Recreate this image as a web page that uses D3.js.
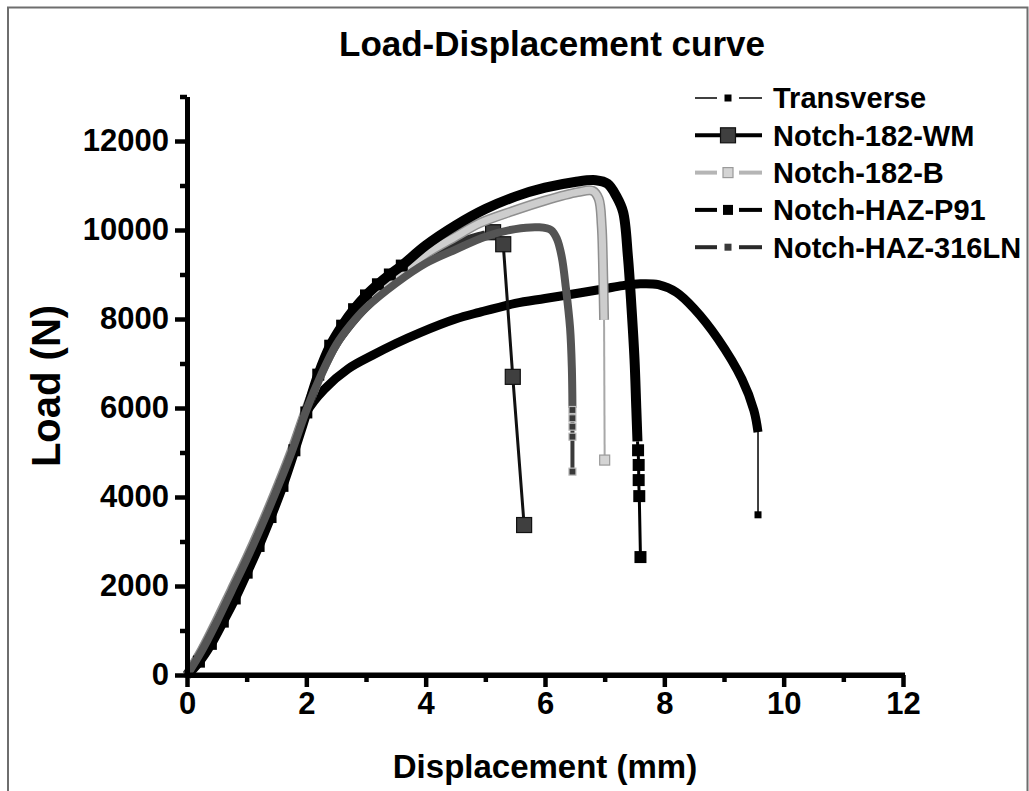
<!DOCTYPE html>
<html>
<head>
<meta charset="utf-8">
<script src="https://cdn.jsdelivr.net/npm/d3@7"></script>
<style>
  body { margin: 0; background: #fff; }
  svg text { font-family: "Liberation Sans", Arial, sans-serif; font-weight: bold; fill: #000; }
</style>
</head>
<body>
<svg id="chart" width="1029" height="791"></svg>
<script>
// ---- Axis ticks ----
const xTickValues = [0, 2, 4, 6, 8, 10, 12];
const xMinorTicks = [1, 3, 5, 7, 9, 11];
const yTickValues = [0, 2000, 4000, 6000, 8000, 10000, 12000];
const yMinorTicks = [1000, 3000, 5000, 7000, 9000, 11000, 13000];

// ---- Series names (legend order = drawing order) ----
const seriesNames = ["Transverse", "Notch-182-WM", "Notch-182-B", "Notch-HAZ-P91", "Notch-HAZ-316LN"];

// ---- Transverse: displacement (mm) / load (N) ----
const transverseDisp = [0, 0.25, 0.5, 0.75, 1.0, 1.25, 1.5, 1.75, 2.0, 2.3, 2.7, 3.1, 3.5, 3.9, 4.5, 4.9, 5.5, 6.0, 6.6, 7.0, 7.3, 7.6, 7.9, 8.2, 8.5, 8.9, 9.3, 9.5, 9.57];
const transverseLoad = [0, 550, 1200, 1900, 2600, 3350, 4150, 5000, 5900, 6420, 6880, 7180, 7450, 7690, 8000, 8150, 8350, 8460, 8590, 8680, 8750, 8790, 8770, 8600, 8230, 7550, 6650, 5950, 5460];
const transverseTailDisp = [9.57];
const transverseTailLoad = [3600];

// ---- Notch-182-WM ----
const wmDisp = [0, 0.25, 0.5, 0.75, 1.0, 1.25, 1.5, 1.75, 2.0, 2.25, 2.5, 2.75, 3.0, 3.5, 4.0, 4.5, 5.0];
const wmLoad = [0, 560, 1220, 1920, 2620, 3370, 4170, 5020, 5960, 6780, 7420, 7880, 8260, 8850, 9350, 9700, 9900];
const wmTailDisp = [5.13, 5.30, 5.46, 5.65];
const wmTailLoad = [9950, 9680, 6700, 3370];

// ---- Notch-182-B ----
const bDisp = [0, 0.25, 0.5, 0.75, 1.0, 1.25, 1.5, 1.75, 2.0, 2.25, 2.5, 2.75, 3.0, 3.5, 4.0, 4.5, 4.9, 5.45, 6.0, 6.55, 6.8, 6.9, 6.95, 6.97, 6.99];
const bLoad = [0, 560, 1220, 1920, 2620, 3370, 4170, 5020, 5970, 6800, 7470, 7950, 8340, 8950, 9460, 9850, 10150, 10420, 10660, 10850, 10880, 10700, 10100, 9330, 7980];
const bTailDisp = [7.0];
const bTailLoad = [4830];

// ---- Notch-HAZ-P91 ----
const p91Disp = [0, 0.2, 0.4, 0.6, 0.8, 1.0, 1.2, 1.4, 1.6, 1.8, 2.0, 2.2, 2.4, 2.6, 2.8, 3.0, 3.2, 3.4, 3.6, 4.0, 4.5, 5.0, 5.5, 6.0, 6.5, 6.85, 7.05, 7.2, 7.31, 7.39, 7.45, 7.5, 7.53, 7.55];
const p91Load = [0, 300, 700, 1200, 1720, 2300, 2900, 3550, 4250, 5050, 5900, 6750, 7400, 7850, 8220, 8530, 8780, 9000, 9200, 9650, 10100, 10470, 10750, 10950, 11080, 11120, 11040, 10750, 10400, 9400, 8250, 7100, 6000, 5250];
const p91TailDisp = [7.56, 7.57, 7.57, 7.58, 7.6];
const p91TailLoad = [5050, 4720, 4380, 4020, 2650];

// ---- Notch-HAZ-316LN ----
const lnDisp = [0, 0.25, 0.5, 0.75, 1.0, 1.25, 1.5, 1.75, 2.0, 2.25, 2.5, 2.75, 3.0, 3.5, 4.0, 4.5, 5.0, 5.5, 5.9, 6.1, 6.2, 6.28, 6.35, 6.42, 6.45, 6.46];
const lnLoad = [0, 550, 1200, 1900, 2600, 3350, 4150, 5000, 5950, 6750, 7420, 7880, 8250, 8800, 9250, 9560, 9850, 10020, 10060, 10000, 9800, 9400, 8700, 7800, 6900, 6000];
const lnTailDisp = [6.46, 6.46, 6.46, 6.46, 6.46];
const lnTailLoad = [5955, 5770, 5580, 5355, 4570];

const zip = (xs, ys) => xs.map((d, i) => [d, ys[i]]);

// Styling for each series: thick body (dense data), thin tail with markers.
// markUpTo: body points up to this displacement are sparse enough to show their markers.
const series = [
  { name: seriesNames[0], curve: zip(transverseDisp, transverseLoad), tail: zip(transverseTailDisp, transverseTailLoad),
    body: [{ c: "#000", w: 9 }], tailStroke: "#000", tailW: 1.5, mSize: 7, mFill: "#000", mStroke: "none", markUpTo: -1 },
  { name: seriesNames[1], curve: zip(wmDisp, wmLoad), tail: zip(wmTailDisp, wmTailLoad),
    body: [{ c: "#2e2e2e", w: 8 }], tailStroke: "#111", tailW: 3, mSize: 15, mFill: "#3f3f3f", mStroke: "#111", markUpTo: -1 },
  { name: seriesNames[2], curve: zip(bDisp, bLoad), tail: zip(bTailDisp, bTailLoad),
    body: [{ c: "#8f8f8f", w: 10 }, { c: "#cdcdcd", w: 7 }], tailStroke: "#a8a8a8", tailW: 2, mSize: 10, mFill: "#d4d4d4", mStroke: "#9a9a9a", markUpTo: -1 },
  { name: seriesNames[3], curve: zip(p91Disp, p91Load), tail: zip(p91TailDisp, p91TailLoad),
    body: [{ c: "#000", w: 10 }], tailStroke: "#000", tailW: 3, mSize: 12, mFill: "#000", mStroke: "none", markUpTo: 3.7 },
  { name: seriesNames[4], curve: zip(lnDisp, lnLoad), tail: zip(lnTailDisp, lnTailLoad),
    body: [{ c: "#545454", w: 8 }], tailStroke: "#3a3a3a", tailW: 4, mSize: 7, mFill: "#3a3a3a", mStroke: "#bdbdbd", markUpTo: -1 }
];

const svg = d3.select("#chart");

// Outer frame
svg.append("path")
  .attr("d", "M8,791 V7.5 H1027.5 V791")
  .attr("fill", "none").attr("stroke", "#6e6e6e").attr("stroke-width", 2);

// Scales
const x = d3.scaleLinear().domain([0, 12]).range([187, 903]);
const y = d3.scaleLinear().domain([0, 13000]).range([675, 96.5]);

// Title
svg.append("text").attr("x", 552).attr("y", 56).attr("text-anchor", "middle")
  .style("font-size", "35px").text("Load-Displacement curve");

// Curves
const smooth = d3.line().x(d => x(d[0])).y(d => y(d[1])).curve(d3.curveCatmullRom.alpha(0.5));
const straight = d3.line().x(d => x(d[0])).y(d => y(d[1]));
const plot = svg.append("g");

series.forEach(s => {
  const g = plot.append("g");
  s.body.forEach(b => {
    g.append("path").attr("d", smooth(s.curve)).attr("fill", "none")
      .attr("stroke", b.c).attr("stroke-width", b.w)
      .attr("stroke-linejoin", "round").attr("stroke-linecap", "butt");
  });
  const tailPts = [s.curve[s.curve.length - 1]].concat(s.tail);
  g.append("path").attr("d", straight(tailPts)).attr("fill", "none")
    .attr("stroke", s.tailStroke).attr("stroke-width", s.tailW);
  const marks = s.curve.filter((d, i) => i > 0 && d[0] <= s.markUpTo).concat(s.tail);
  g.selectAll("rect.m").data(marks).join("rect").attr("class", "m")
    .attr("x", d => x(d[0]) - s.mSize / 2).attr("y", d => y(d[1]) - s.mSize / 2)
    .attr("width", s.mSize).attr("height", s.mSize)
    .attr("fill", s.mFill).attr("stroke", s.mStroke).attr("stroke-width", 1.2);
});

// Axes
function styleAxis(g) {
  g.select(".domain").attr("stroke", "#000").attr("stroke-width", 5);
  g.selectAll(".tick line").attr("stroke", "#000").attr("stroke-width", 4.5);
  g.selectAll(".tick text").style("font-size", "31px").style("font-family", "'Liberation Sans', Arial, sans-serif").style("font-weight", "bold");
}
const yMinor = svg.append("g").attr("transform", "translate(187,0)")
  .call(d3.axisLeft(y).tickValues(yMinorTicks).tickSize(7).tickSizeOuter(0).tickFormat(""));
styleAxis(yMinor);
const yMajor = svg.append("g").attr("transform", "translate(187,0)")
  .call(d3.axisLeft(y).tickValues(yTickValues).tickSize(12).tickSizeOuter(0).tickPadding(6).tickFormat(d3.format("d")));
styleAxis(yMajor);

const xMinor = svg.append("g").attr("transform", "translate(0,675)")
  .call(d3.axisBottom(x).tickValues(xMinorTicks).tickSize(7).tickSizeOuter(0).tickFormat(""));
styleAxis(xMinor);
const xMajor = svg.append("g").attr("transform", "translate(0,675)")
  .call(d3.axisBottom(x).tickValues(xTickValues).tickSize(12).tickSizeOuter(0).tickPadding(5).tickFormat(d3.format("d")));
styleAxis(xMajor);
xMajor.select(".domain").attr("d", `M${x(0) - 2.5},0H${x(12) + 2}`);

// Axis titles
svg.append("text").attr("x", 545).attr("y", 778).attr("text-anchor", "middle")
  .style("font-size", "33px").text("Displacement (mm)");
svg.append("text").attr("transform", "translate(60,386) rotate(-90)").attr("text-anchor", "middle")
  .style("font-size", "40px").text("Load (N)");

// Legend
const legend = svg.append("g");
series.forEach((s, i) => {
  const cy = 98 + i * 37.3;
  const g = legend.append("g");
  const lw = i === 0 ? 1.5 : 4;
  const gap = i === 1 ? 0 : 11;
  const lc = i === 2 ? "#b5b5b5" : (i === 4 ? "#2a2a2a" : "#000");
  g.append("line").attr("x1", 695).attr("x2", 728 - gap).attr("y1", cy).attr("y2", cy)
    .attr("stroke", lc).attr("stroke-width", lw);
  g.append("line").attr("x1", 728 + gap).attr("x2", 762).attr("y1", cy).attr("y2", cy)
    .attr("stroke", lc).attr("stroke-width", lw);
  const ms = [7, 15, 10, 10, 7][i];
  g.append("rect").attr("x", 728 - ms / 2).attr("y", cy - ms / 2).attr("width", ms).attr("height", ms)
    .attr("fill", s.mFill).attr("stroke", i === 4 ? "none" : s.mStroke).attr("stroke-width", 1.2);
  g.append("text").attr("x", 773).attr("y", cy).attr("dy", "0.36em")
    .style("font-size", "29px").text(s.name);
});
</script>
</body>
</html>
